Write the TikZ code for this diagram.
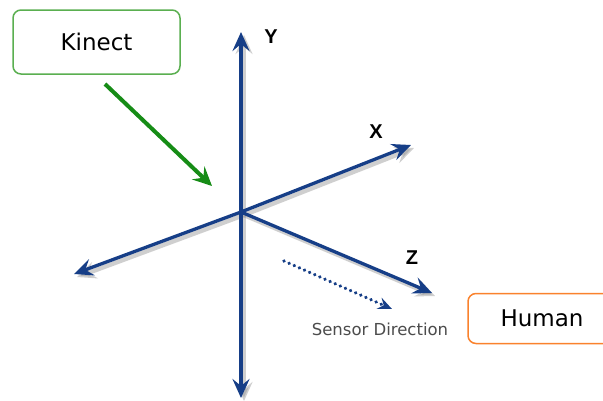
\documentclass[tikz,border=0pt]{standalone}
\usepackage{fontspec}
\setmainfont{DejaVu Sans}
\newfontfamily\lblfont{Liberation Sans}
\usetikzlibrary{arrows.meta}
\definecolor{axisblue}{RGB}{22,62,135}
\definecolor{kgreen}{RGB}{22,140,22}
\definecolor{kborder}{RGB}{90,175,80}
\definecolor{hborder}{RGB}{250,130,45}
\definecolor{shadowgray}{RGB}{150,150,150}
\tikzset{
  axisline/.style={draw=axisblue, line width=3.3pt, -{Stealth[length=19pt,width=17pt,inset=7pt]}},
  axisshadow/.style={draw=shadowgray, opacity=0.45, line width=4.5pt, -{Stealth[length=19pt,width=17pt,inset=7pt]}},
  labelbox/.style={draw, rounded corners=8pt, line width=1.5pt, inner sep=0pt, font=\fontsize{23}{26}\selectfont},
  axislabel/.style={font=\lblfont\bfseries\fontsize{20}{22}\selectfont, text=black},
}
\begin{document}
\begin{tikzpicture}[x=1pt,y=-1pt]
\clip (0,0) rectangle (603,400);
\fill[white] (0,0) rectangle (603,400);
% coordinates
\coordinate (o) at (241,212);
\coordinate (ytop) at (241,32);
\coordinate (ybot) at (241,398);
\coordinate (xpos) at (411,145);
\coordinate (xneg) at (74,274);
\coordinate (zpos) at (432,293);
\coordinate (ds) at (284,261);
\coordinate (de) at (392,309);
\coordinate (gs) at (105,84);
\coordinate (ge) at (212,186);
% shadows
\foreach \t in {ytop,ybot,xpos,xneg,zpos}{
  \draw[axisshadow] ([shift={(3,3)}]o) -- ([shift={(3,3)}]\t);
}
% axes
\draw[axisline] (o) -- (ytop);
\draw[axisline] (o) -- (ybot);
\draw[axisline] (o) -- (xpos);
\draw[axisline] (o) -- (xneg);
\draw[axisline] (o) -- (zpos);
% sensor direction
\draw[draw=axisblue, line width=3.6pt, line cap=round, dash pattern=on 0.1pt off 5.5pt, -{Stealth[length=14pt,width=12pt,inset=5pt]}] (ds) -- (de);
% labels
\node[axislabel] (ylab) at (271,37) {Y};
\node[axislabel] (xlab) at (376,132) {X};
\node[axislabel] (zlab) at (412,258) {Z};
\node[text=black!70, font=\fontsize{16.5}{18}\selectfont] (sens) at (380,329) {Sensor Direction};
% boxes
\node[labelbox, draw=kborder, minimum width=167pt, minimum height=64pt] (kinect) at (96.5,42) {Kinect};
\node[labelbox, draw=hborder, minimum width=148pt, minimum height=50pt] (human) at (542,318.5) {Human};
% green arrow
\draw[draw=kgreen, line width=4pt, -{Stealth[length=19pt,width=18pt,inset=7pt]}] (gs) -- (ge);
\end{tikzpicture}
\end{document}
